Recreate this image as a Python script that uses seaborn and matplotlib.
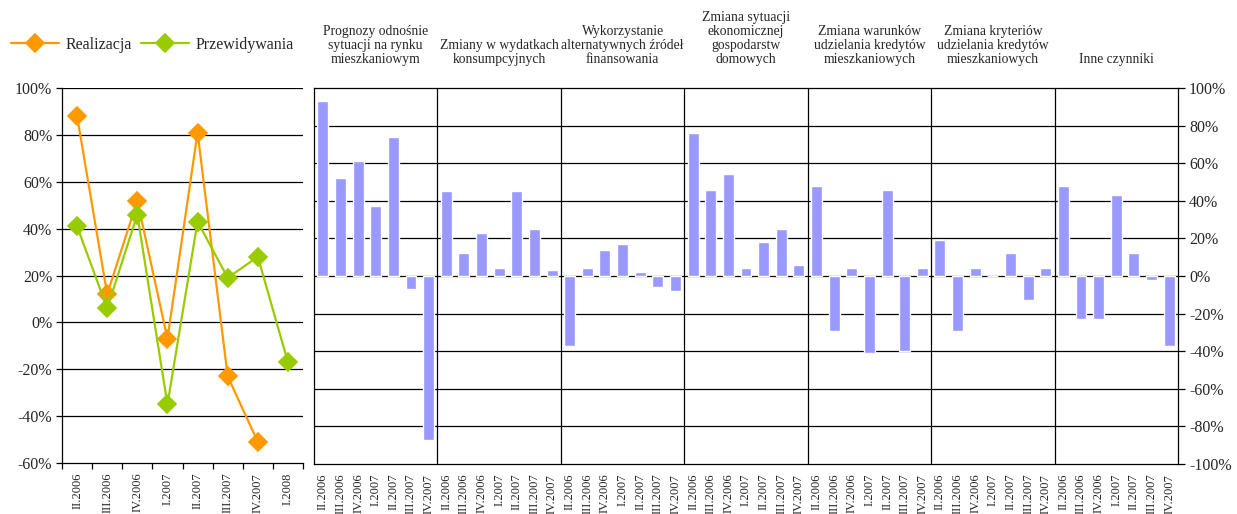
import numpy as np
import pandas as pd
import matplotlib
matplotlib.use("Agg")
import matplotlib.pyplot as plt
import matplotlib.transforms as mtransforms
from matplotlib.ticker import FuncFormatter, FixedLocator
import seaborn as sns

# ---- data -------------------------------------------------------------
quarters_line = ["II.2006", "III.2006", "IV.2006", "I.2007",
                 "II.2007", "III.2007", "IV.2007", "I.2008"]
realizacja = [88, 12, 52, -7, 81, -23, -51, np.nan]
przewidywania = [41, 6, 46, -35, 43, 19, 28, -17]

quarters_bar = ["II.2006", "III.2006", "IV.2006", "I.2007",
                "II.2007", "III.2007", "IV.2007"]
factor_titles = [
    "Prognozy odnośnie\nsytuacji na rynku\nmieszkaniowym",
    "Zmiany w wydatkach\nkonsumpcyjnych",
    "Wykorzystanie\nalternatywnych źródeł\nfinansowania",
    "Zmiana sytuacji\nekonomicznej\ngospodarstw\ndomowych",
    "Zmiana warunków\nudzielania kredytów\nmieszkaniowych",
    "Zmiana kryteriów\nudzielania kredytów\nmieszkaniowych",
    "Inne czynniki",
]
prognozy = [93, 52, 61, 37, 74, -7, -87]
wydatki = [45, 12, 23, 4, 45, 25, 3]
alternatywne = [-37, 4, 14, 17, 2, -6, -8]
sytuacja = [76, 46, 54, 4, 18, 25, 6]
warunki = [48, -29, 4, -41, 46, -40, 4]
kryteria = [19, -29, 4, 0, 12, -13, 4]
inne = [48, -23, -23, 43, 12, -2, -37]
factor_values = [prognozy, wydatki, alternatywne, sytuacja, warunki, kryteria, inne]

# ---- styling ----------------------------------------------------------
sns.set_theme(style="white")
plt.rcParams["font.family"] = ["Liberation Serif", "DejaVu Serif"]
plt.rcParams["axes.unicode_minus"] = False

ORANGE = "#FF9900"
GREEN = "#99CC00"
BAR = "#9999FF"

pct = FuncFormatter(lambda v, _: f"{v:.0f}%")

fig = plt.figure(figsize=(12.37, 5.14), dpi=100)
W, H = 1237, 514


def px_axes(x0, y0, x1, y1):
    return fig.add_axes([x0 / W, 1 - y1 / H, (x1 - x0) / W, (y1 - y0) / H])


# ---- left: line chart -------------------------------------------------
ax1 = px_axes(62, 88, 303, 463)
line_df = pd.DataFrame({
    "kwartał": quarters_line * 2,
    "wartość": realizacja + przewidywania,
    "seria": ["Realizacja"] * len(quarters_line) + ["Przewidywania"] * len(quarters_line),
})
sns.pointplot(data=line_df, x="kwartał", y="wartość", hue="seria",
              order=quarters_line, hue_order=["Realizacja", "Przewidywania"],
              palette=[ORANGE, GREEN], markers="D", linestyles="-",
              errorbar=None, dodge=False, markersize=9, linewidth=1.6, ax=ax1)
ax1.set_xlim(-0.5, len(quarters_line) - 0.5)
ax1.set_ylim(-60, 100)
ax1.set_yticks(np.arange(-60, 101, 20))
ax1.yaxis.set_major_formatter(pct)
ax1.set_xlabel("")
ax1.set_ylabel("")
for v in range(-40, 101, 20):
    ax1.axhline(v, color="black", lw=0.9, zorder=0)
for s in ["top", "right"]:
    ax1.spines[s].set_visible(False)
for s in ["left", "bottom"]:
    ax1.spines[s].set_color("black")
    ax1.spines[s].set_linewidth(0.9)
ax1.tick_params(axis="y", which="major", left=True, length=4, width=0.9,
                color="black", labelsize=11.5, pad=3)
ax1.set_xticks(range(len(quarters_line)))
ax1.set_xticklabels(quarters_line, rotation=90, fontsize=9, va="top")
ax1.tick_params(axis="x", which="major", length=0, pad=7)
ax1.xaxis.set_minor_locator(FixedLocator(np.arange(-0.5, len(quarters_line), 1.0)))
ax1.tick_params(axis="x", which="minor", bottom=True, length=4, width=0.9, color="black")
handles, labels = ax1.get_legend_handles_labels()
ax1.get_legend().remove()
fig.legend(handles, labels, loc="center left", bbox_to_anchor=(0.0, 1 - 45 / H),
           ncol=2, frameon=False, fontsize=11.5, handlelength=3.0,
           handletextpad=0.4, columnspacing=0.6, borderaxespad=0.3)

# ---- right: bars by factor --------------------------------------------
ax2 = px_axes(314, 88, 1178, 464)
n_q = len(quarters_bar)
bar_df = pd.DataFrame({
    "klucz": [f"{g}-{q}" for g in range(len(factor_values)) for q in quarters_bar],
    "wartość": [v for vals in factor_values for v in vals],
})
sns.barplot(data=bar_df, x="klucz", y="wartość", order=list(bar_df["klucz"]),
            color=BAR, saturation=1, width=0.62, errorbar=None, ax=ax2, zorder=3)
n_bars = len(bar_df)
ax2.set_xlim(-0.5, n_bars - 0.5)
ax2.set_ylim(-100, 100)
ax2.set_xlabel("")
ax2.set_ylabel("")
for v in range(-80, 100, 20):
    ax2.axhline(v, color="black", lw=0.9, zorder=1)
for g in range(1, len(factor_values)):
    ax2.axvline(g * n_q - 0.5, color="black", lw=0.9, zorder=1)
for s in ax2.spines.values():
    s.set_color("black")
    s.set_linewidth(0.9)
ax2.yaxis.tick_right()
ax2.set_yticks(np.arange(-100, 101, 20))
ax2.yaxis.set_major_formatter(pct)
ax2.tick_params(axis="y", right=True, left=False, length=5, width=0.9,
                color="black", labelsize=11.5, pad=3)
ax2.set_xticks(range(n_bars))
ax2.set_xticklabels(quarters_bar * len(factor_values), rotation=90,
                    fontsize=9, va="top")
ax2.tick_params(axis="x", length=0, pad=7)

trans = mtransforms.blended_transform_factory(ax2.transData, ax2.transAxes)
for g, title in enumerate(factor_titles):
    ax2.text(g * n_q + (n_q - 1) / 2, 1.058, title, transform=trans,
             ha="center", va="bottom", multialignment="center",
             fontsize=9.8, linespacing=1.12)

fig.savefig("out.png", dpi=100)
